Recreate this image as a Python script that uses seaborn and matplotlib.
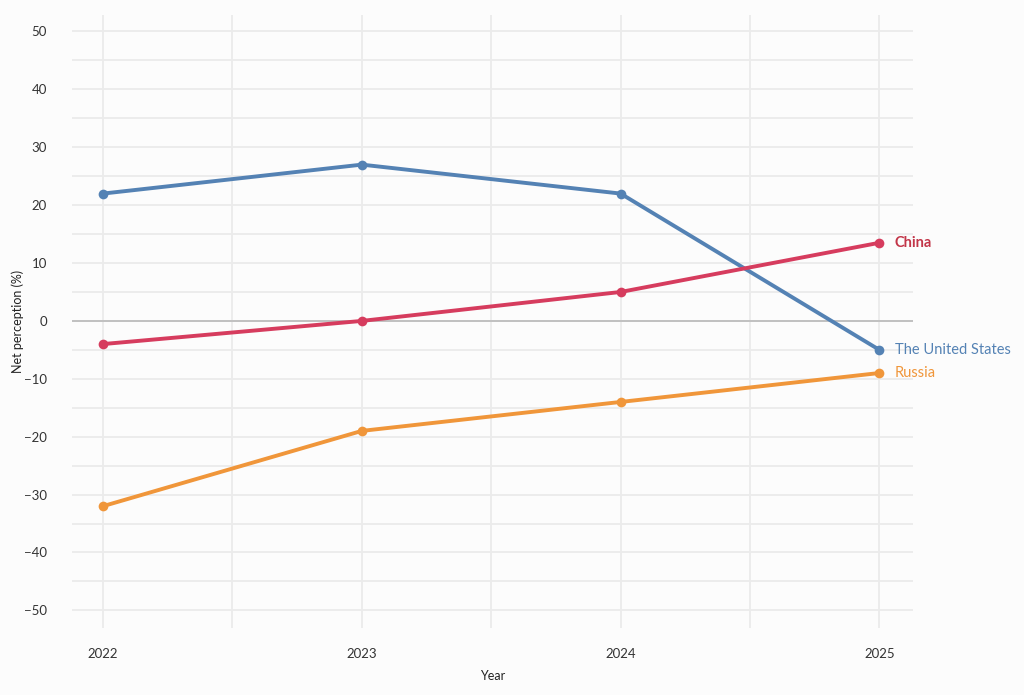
import matplotlib.pyplot as plt
import seaborn as sns
import pandas as pd

years = [2022, 2023, 2024, 2025]
united_states = [22, 27, 22, -5]
china = [-4, 0, 5, 13.5]
russia = [-32, -19, -14, -9]
series_names = ["The United States", "China", "Russia"]
colores = {"The United States": "#5482b4", "China": "#d63c5e", "Russia": "#f0963a"}
colores_texto = {"The United States": "#5482b4", "China": "#c23548", "Russia": "#f0963a"}

df = pd.DataFrame({
    "Year": years * 3,
    "Net perception (%)": united_states + china + russia,
    "Country": [n for n in series_names for _ in years],
})

sns.set_style("white")
plt.rcParams['font.family'] = ['Lato', 'DejaVu Sans']

fig = plt.figure(figsize=(10.24, 6.95), dpi=100, facecolor="#fcfcfc")
ax = fig.add_axes([0.0703, 0.096, 0.8213, 0.882])
ax.set_facecolor("#fcfcfc")

# rejilla mayor y menor
for y in range(-50, 51, 5):
    ax.axhline(y, color="#ebebeb", lw=1.3, zorder=0)
for x in [2022, 2022.5, 2023, 2023.5, 2024, 2024.5, 2025]:
    ax.axvline(x, color="#ebebeb", lw=1.3, zorder=0)
ax.axhline(0, color="#bdbdbd", lw=1.3, zorder=1)

sns.lineplot(
    data=df, x="Year", y="Net perception (%)", hue="Country",
    palette=colores, marker="o", markersize=7, markeredgewidth=0,
    linewidth=2.8, legend=False, ax=ax, zorder=3,
)

for nombre in series_names:
    ultimo = df[df["Country"] == nombre].iloc[-1]
    ax.text(ultimo["Year"] + 0.06, ultimo["Net perception (%)"], nombre,
            color=colores_texto[nombre], fontsize=10.5, fontweight="bold" if nombre == "China" else "normal",
            va="center", ha="left", clip_on=False)

ax.set_xlim(2021.88, 2025.13)
ax.set_ylim(-53.1, 52.8)
ax.set_xticks(years)
ax.set_xticklabels([str(y) for y in years])
ax.set_yticks(range(-50, 51, 10))
ax.tick_params(axis="both", length=0, labelsize=9.5, colors="#333333")
ax.tick_params(axis="x", pad=14)
ax.tick_params(axis="y", pad=18)
ax.set_xlabel("Year", fontsize=9, color="#222222")
ax.set_ylabel("Net perception (%)", fontsize=9, color="#222222")
ax.yaxis.set_label_coords(-0.064, 0.5)
ax.xaxis.set_label_coords(0.5, -0.078)
ax.xaxis.label.set_va("center")
ax.yaxis.label.set_va("center")
for s in ax.spines.values():
    s.set_visible(False)

plt.savefig("out.png", dpi=100, facecolor=fig.get_facecolor())
plt.close()
